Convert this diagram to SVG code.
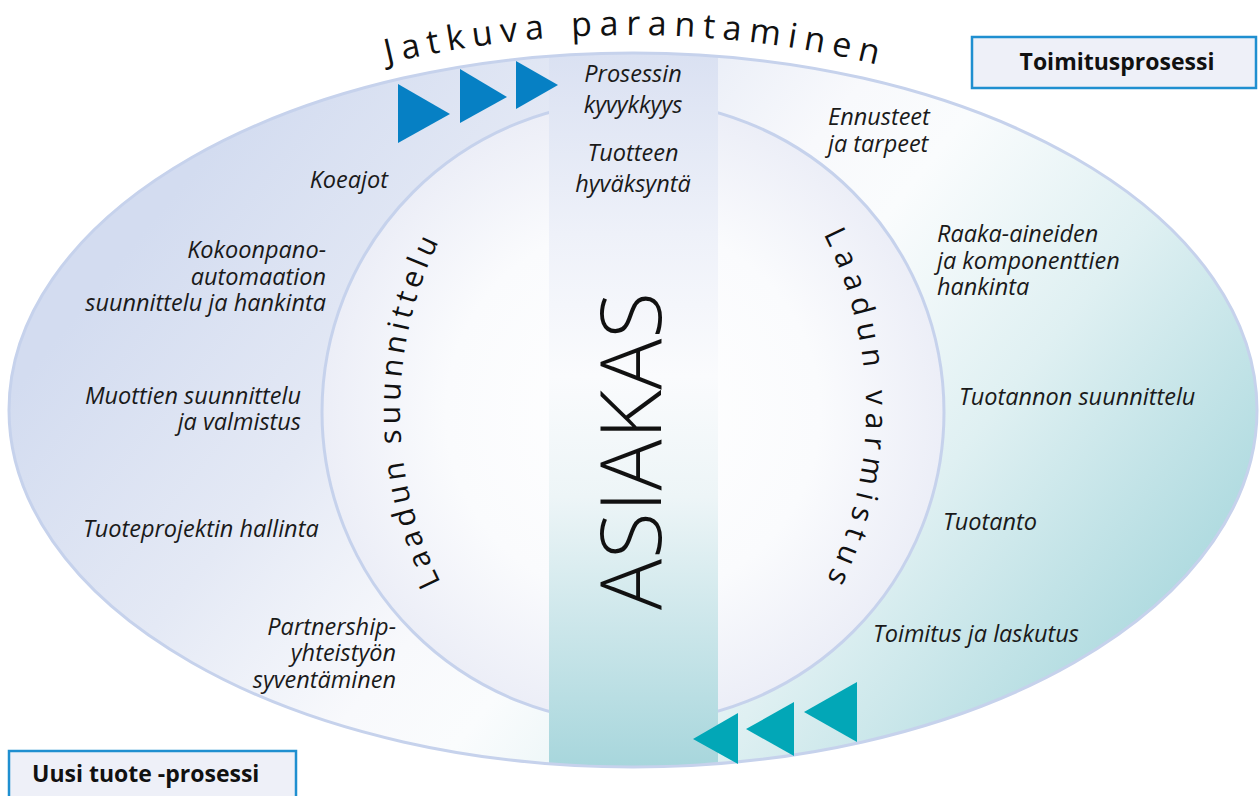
<svg xmlns="http://www.w3.org/2000/svg" width="1260" height="796" viewBox="0 0 1260 796">
<defs>
<style>
.lbl{font-family:"Open Sans","Noto Sans","DejaVu Sans",sans-serif;font-style:italic;font-size:23.5px;fill:#1a1a1a}
.r{text-anchor:end}
.c{text-anchor:middle}
.box{fill:#eef0f8;stroke:#1f8fd0;stroke-width:2.5}
.boxt{font-family:"Open Sans","Noto Sans","DejaVu Sans",sans-serif;font-weight:bold;font-size:23px;fill:#111}
.ring{fill:none;stroke:#c6d2ec;stroke-width:3}
.curv{font-family:"Open Sans","Noto Sans","DejaVu Sans",sans-serif;font-size:30px;fill:#111}
.blue{fill:#0680c4}
.teal{fill:#02a7b7}
</style>
<linearGradient id="gOuter" gradientUnits="userSpaceOnUse" x1="250" y1="100" x2="1050" y2="750">
<stop offset="0" stop-color="#d3dcf0"/>
<stop offset="0.25" stop-color="#e4e9f5"/>
<stop offset="0.45" stop-color="#f8f9fc"/>
<stop offset="0.55" stop-color="#fafcfd"/>
<stop offset="0.75" stop-color="#dff0f2"/>
<stop offset="1" stop-color="#b0dbe0"/>
</linearGradient>
<radialGradient id="gInner" gradientUnits="userSpaceOnUse" cx="633" cy="412" r="311">
<stop offset="0" stop-color="#ffffff"/>
<stop offset="0.6" stop-color="#fafbfd"/>
<stop offset="1" stop-color="#eceef7"/>
</radialGradient>
<linearGradient id="gCol" gradientUnits="userSpaceOnUse" x1="0" y1="55" x2="0" y2="768">
<stop offset="0" stop-color="#dae1f2"/>
<stop offset="0.25" stop-color="#eef1f9"/>
<stop offset="0.45" stop-color="#fafbfd"/>
<stop offset="0.62" stop-color="#edf5f7"/>
<stop offset="1" stop-color="#a7d6dc"/>
</linearGradient>
<clipPath id="cEll"><ellipse cx="633" cy="410" rx="624" ry="357"/></clipPath>
<path id="pTitle" d="M330,78.8 A1050,1050 0 0 1 930,78.8"/>
<path id="pLeft" d="M490.3,658.1 A386,386 0 0 1 490.3,161.9"/>
<path id="pRight" d="M775.7,161.9 A386,386 0 0 1 775.7,658.1"/>
</defs>
<rect width="1260" height="796" fill="#ffffff"/>

<g id="outer-ellipse">
<ellipse cx="633" cy="410" rx="624" ry="357" fill="url(#gOuter)"/>
</g>
<g id="inner-circle">
<circle cx="633" cy="412" r="311" fill="url(#gInner)" stroke="#c6d2ec" stroke-width="3"/>
</g>
<g id="asiakas-column">
<rect x="549" y="40" width="169" height="740" fill="url(#gCol)" clip-path="url(#cEll)"/>
<text transform="translate(661,451) rotate(-90)" text-anchor="middle" font-family="'Open Sans','Noto Sans','DejaVu Sans',sans-serif" font-weight="300" font-size="85" fill="#111" textLength="318" lengthAdjust="spacing">ASIAKAS</text>
</g>
<ellipse class="ring" cx="633" cy="410" rx="624" ry="357"/>

<g id="title">
<text font-family="'Open Sans','Noto Sans','DejaVu Sans',sans-serif" font-size="34" fill="#111" letter-spacing="7.5" word-spacing="3"><textPath href="#pTitle" startOffset="59">Jatkuva parantaminen</textPath></text>
</g>
<g id="laadun-suunnittelu">
<text class="curv" letter-spacing="4.8"><textPath href="#pLeft" startOffset="50%" text-anchor="middle">Laadun suunnittelu</textPath></text>
</g>
<g id="laadun-varmistus">
<text class="curv" letter-spacing="7.3"><textPath href="#pRight" startOffset="50%" text-anchor="middle">Laadun varmistus</textPath></text>
</g>

<g id="arrows">
<polygon class="blue" points="398,84 450,114 398,143"/>
<polygon class="blue" points="460,69 507,97 460,123"/>
<polygon class="blue" points="516,61 558,85 516,109"/>
<polygon class="teal" points="693,739 738,713 738,764"/>
<polygon class="teal" points="746,729 794,702 794,756"/>
<polygon class="teal" points="804,712 857,682 857,742"/>
</g>

<g id="prosessin-kyvykkyys"><text class="lbl c" x="633" y="82">Prosessin</text><text class="lbl c" x="633" y="113">kyvykkyys</text></g>
<g id="tuotteen-hyvaksynta"><text class="lbl c" x="633" y="161">Tuotteen</text><text class="lbl c" x="633" y="192">hyväksyntä</text></g>
<g id="ennusteet"><text class="lbl" x="828" y="125">Ennusteet</text><text class="lbl" x="828" y="152">ja tarpeet</text></g>
<g id="koeajot"><text class="lbl r" x="388" y="188">Koeajot</text></g>
<g id="kokoonpano"><text class="lbl r" x="326" y="258">Kokoonpano-</text><text class="lbl r" x="326" y="285">automaation</text><text class="lbl r" x="326" y="311">suunnittelu ja hankinta</text></g>
<g id="raaka-aineiden"><text class="lbl" x="937" y="242">Raaka-aineiden</text><text class="lbl" x="937" y="269">ja komponenttien</text><text class="lbl" x="937" y="295">hankinta</text></g>
<g id="muottien"><text class="lbl r" x="301" y="404">Muottien suunnittelu</text><text class="lbl r" x="301" y="430">ja valmistus</text></g>
<g id="tuotannon-suunnittelu"><text class="lbl" x="959" y="405">Tuotannon suunnittelu</text></g>
<g id="tuoteprojektin-hallinta"><text class="lbl" x="83" y="537">Tuoteprojektin hallinta</text></g>
<g id="tuotanto"><text class="lbl" x="943" y="530">Tuotanto</text></g>
<g id="toimitus"><text class="lbl" x="873" y="642">Toimitus ja laskutus</text></g>
<g id="partnership"><text class="lbl r" x="396" y="635">Partnership-</text><text class="lbl r" x="396" y="661">yhteistyön</text><text class="lbl r" x="396" y="688">syventäminen</text></g>

<g id="toimitusprosessi">
<rect class="box" x="972" y="37" width="284" height="51"/>
<text class="boxt" x="1117" y="70" text-anchor="middle">Toimitusprosessi</text>
</g>
<g id="uusi-tuote-prosessi">
<rect class="box" x="9" y="751" width="287" height="60"/>
<text class="boxt" x="32" y="782">Uusi tuote -prosessi</text>
</g>
</svg>
